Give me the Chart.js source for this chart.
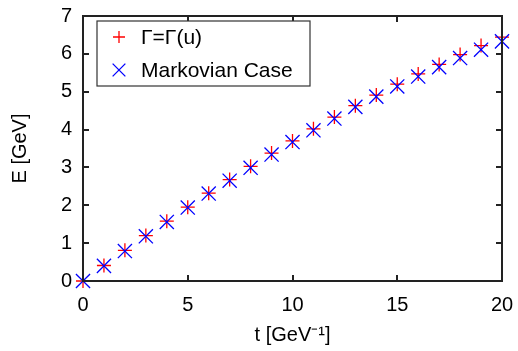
<!DOCTYPE html>
<html>
<head>
<meta charset="utf-8">
<script src="https://cdn.jsdelivr.net/npm/chart.js@4/dist/chart.umd.min.js"></script>
<style>
  html, body { margin: 0; padding: 0; background: #fff; }
  #wrap { width: 518px; height: 351px; }
</style>
</head>
<body>
<div id="wrap"><canvas id="c" width="518" height="351"></canvas></div>
<script>
// t values [GeV^-1]
const times = [0,1,2,3,4,5,6,7,8,9,10,11,12,13,14,15,16,17,18,19,20];
// E [GeV], Gamma = Gamma(u)
const energyGammaU = [0,0.41,0.81,1.20,1.58,1.95,2.32,2.68,3.03,3.38,3.70,4.02,4.33,4.63,4.91,5.20,5.47,5.72,5.98,6.22,6.44];
// E [GeV], Markovian case
const energyMarkov = [0,0.40,0.79,1.18,1.56,1.94,2.31,2.65,2.99,3.34,3.67,3.98,4.29,4.60,4.87,5.14,5.40,5.65,5.89,6.11,6.33];
const xTicks = [0,5,10,15,20];
const yTicks = [0,1,2,3,4,5,6,7];

const FONT = 'Liberation Sans, Arial, sans-serif';
const frameColor = '#222';

// frame (filled 2px edges) with inward ticks, then the boxed legend on top
const decor = {
  id: 'decor',
  afterDraw(chart) {
    const ctx = chart.ctx;
    const a = chart.chartArea;
    const sx = chart.scales.x, sy = chart.scales.y;
    const L = Math.round(a.left), T = Math.round(a.top);
    const R = Math.round(a.right), B = Math.round(a.bottom);
    ctx.save();
    ctx.fillStyle = frameColor;
    ctx.fillRect(L - 1, T - 1, R - L + 2, 2);
    ctx.fillRect(L - 1, B - 1, R - L + 2, 2);
    ctx.fillRect(L - 1, T - 1, 2, B - T + 2);
    ctx.fillRect(R - 1, T - 1, 2, B - T + 2);
    const tl = 6;
    xTicks.forEach(v => {
      const x = Math.round(sx.getPixelForValue(v));
      ctx.fillRect(x - 1, B - tl, 2, tl);
      ctx.fillRect(x - 1, T, 2, tl);
    });
    yTicks.forEach(v => {
      const y = Math.round(sy.getPixelForValue(v));
      ctx.fillRect(L, y - 1, tl, 2);
      ctx.fillRect(R - tl, y - 1, tl, 2);
    });

    // legend
    const x0 = L + 14, y0 = T + 5, w = 213, h = 65;
    ctx.fillStyle = '#fff';
    ctx.fillRect(x0, y0, w, h);
    ctx.strokeStyle = '#333';
    ctx.lineWidth = 1.2;
    ctx.strokeRect(x0, y0, w, h);
    ctx.font = '21px ' + FONT;
    ctx.textBaseline = 'middle';
    chart.data.datasets.forEach((ds, i) => {
      const cy = y0 + 16 + i * 33;
      ctx.strokeStyle = ds.borderColor;
      ctx.lineWidth = ds.borderWidth;
      Chart.helpers.drawPoint(ctx, {pointStyle: ds.pointStyle, radius: ds.pointStyle === 'crossRot' ? 9 : 6, borderWidth: ds.borderWidth}, x0 + 22, cy);
      ctx.fillStyle = '#000';
      ctx.fillText(ds.label, x0 + 44, cy + 1);
    });
    ctx.restore();
  }
};

new Chart(document.getElementById('c'), {
  type: 'scatter',
  data: {
    datasets: [
      {
        label: 'Γ=Γ(u)',
        data: times.map((t, i) => ({x: t, y: energyGammaU[i]})),
        pointStyle: 'cross',
        pointRadius: 7,
        borderColor: '#ff0000',
        backgroundColor: '#ff0000',
        borderWidth: 1.3,
        clip: false,
        order: 2
      },
      {
        label: 'Markovian Case',
        data: times.map((t, i) => ({x: t, y: energyMarkov[i]})),
        pointStyle: 'crossRot',
        pointRadius: 10,
        borderColor: '#0000ff',
        backgroundColor: '#0000ff',
        borderWidth: 1.3,
        clip: false,
        order: 1
      }
    ]
  },
  options: {
    responsive: false,
    animation: false,
    layout: { padding: { top: 16, right: 16, left: 0, bottom: 0 } },
    plugins: { legend: { display: false }, tooltip: { enabled: false } },
    scales: {
      x: {
        type: 'linear',
        min: 0, max: 20,
        afterBuildTicks: s => { s.ticks = xTicks.map(v => ({value: v})); },
        afterFit: s => { s.height = 70; s.paddingLeft = 0; s.paddingRight = 0; },
        grid: { display: false, drawTicks: false },
        border: { display: false },
        ticks: { color: '#000', font: { family: FONT, size: 20 }, padding: 12 },
        title: { display: true, text: 't [GeV⁻¹]', color: '#000', font: { family: FONT, size: 20 }, padding: { top: 0, bottom: 4 } }
      },
      y: {
        type: 'linear',
        min: 0, max: 7,
        afterBuildTicks: s => { s.ticks = yTicks.map(v => ({value: v})); },
        afterFit: s => { s.width = 83; s.paddingTop = 0; s.paddingBottom = 0; },
        grid: { display: false, drawTicks: false },
        border: { display: false },
        ticks: { color: '#000', font: { family: FONT, size: 20 }, padding: 11 },
        title: { display: true, text: 'E [GeV]', color: '#000', font: { family: FONT, size: 20 }, padding: { top: 8, bottom: 0 } }
      }
    }
  },
  plugins: [decor]
});
</script>
</body>
</html>
